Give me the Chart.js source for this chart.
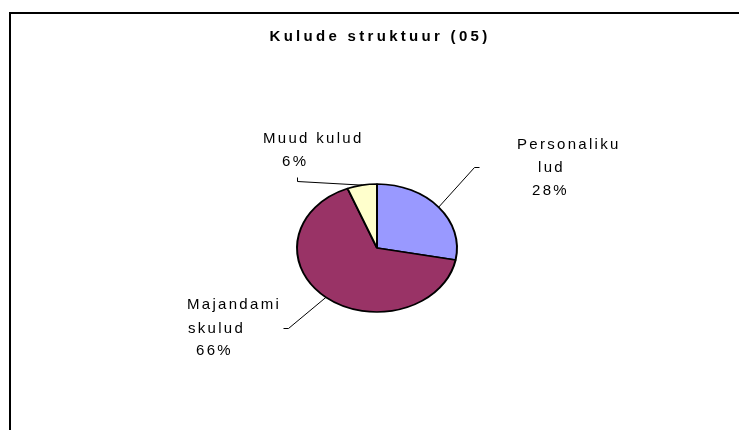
<!DOCTYPE html>
<html lang="et">
<head>
  <meta charset="UTF-8" />
  <title>Kulude struktuur (05)</title>
  <script src="https://cdn.jsdelivr.net/npm/chart.js"></script>
  <style>
    html, body { margin: 0; padding: 0; background: #fff; overflow: hidden; }
    #wrap { position: relative; width: 739px; height: 430px; }
    #frame { position: absolute; left: 9px; top: 12px; width: 800px; height: 500px;
             border-left: 2px solid #000; border-top: 2px solid #000; }
    canvas { position: absolute; left: 0; top: 0; }
  </style>
</head>
<body>
  <div id="wrap">
    <div id="frame"></div>
    <canvas id="pie" width="739" height="430"></canvas>
  </div>
  <script>
    // data
    const chartTitle = 'Kulude struktuur (05)';
    const categories = ['Personalikulud', 'Majandamiskulud', 'Muud kulud'];
    const shares = [28, 66, 6];
    // how the category names wrap in the labels
    const labelLines = [['Personaliku', 'lud'], ['Majandami', 'skulud'], ['Muud kulud']];

    // styles / layout
    const sliceColors = ['#9999FF', '#993366', '#FFFFCC'];
    const squash = 0.8; // pie is drawn as an ellipse
    const labelPos = [
      { lines: [[517, 149], [538, 172], [532, 195]], elbow: [474, 167], end: [479, 167] },
      { lines: [[187, 309], [188, 333], [196, 355]], elbow: [288, 328], end: [283, 328] },
      { lines: [[263, 143], [282, 166]], elbow: [297, 181], end: [297, 177] }
    ];

    // squash the round pie vertically
    const ellipsePlugin = {
      id: 'ellipse',
      beforeDatasetsDraw(chart) {
        const arc = chart.getDatasetMeta(0).data[0];
        const ctx = chart.ctx;
        ctx.save();
        ctx.translate(arc.x, arc.y);
        ctx.scale(1, squash);
        ctx.translate(-arc.x, -arc.y);
      },
      afterDatasetsDraw(chart) {
        chart.ctx.restore();
      }
    };

    // title, leader lines and data labels
    const labelsPlugin = {
      id: 'labels',
      afterDraw(chart) {
        const ctx = chart.ctx;
        const total = shares.reduce((a, b) => a + b, 0);
        ctx.save();
        ctx.fillStyle = '#000';
        ctx.font = 'bold 15px "Liberation Sans", Arial, sans-serif';
        ctx.letterSpacing = '3.3px';
        ctx.textBaseline = 'alphabetic';
        const tw = ctx.measureText(chartTitle).width;
        ctx.textAlign = 'left';
        ctx.fillText(chartTitle, 378 - tw / 2 + 2, 41);

        ctx.font = '15px "Liberation Sans", Arial, sans-serif';
        ctx.letterSpacing = '2.3px';
        ctx.strokeStyle = '#000';
        ctx.lineWidth = 1;
        chart.getDatasetMeta(0).data.forEach((arc, i) => {
          const p = arc.getProps(['x', 'y', 'startAngle', 'endAngle', 'outerRadius'], true);
          const mid = (p.startAngle + p.endAngle) / 2;
          const ex = p.x + Math.cos(mid) * p.outerRadius;
          const ey = p.y + Math.sin(mid) * p.outerRadius * squash;
          const lp = labelPos[i];
          ctx.beginPath();
          ctx.moveTo(ex, ey);
          ctx.lineTo(lp.elbow[0] + 0.5, lp.elbow[1] + 0.5);
          ctx.lineTo(lp.end[0] + 0.5, lp.end[1] + 0.5);
          ctx.stroke();
          const text = labelLines[i].concat([Math.round(shares[i] / total * 100) + '%']);
          text.forEach((t, j) => ctx.fillText(t, lp.lines[j][0], lp.lines[j][1]));
        });
        ctx.restore();
      }
    };

    new Chart(document.getElementById('pie'), {
      type: 'pie',
      data: {
        labels: categories,
        datasets: [{
          data: shares,
          backgroundColor: sliceColors,
          borderColor: '#000',
          borderWidth: 2
        }]
      },
      options: {
        responsive: false,
        animation: false,
        layout: { padding: { left: 296, right: 281, top: 167, bottom: 101 } },
        plugins: { legend: { display: false }, tooltip: { enabled: false }, title: { display: false } }
      },
      plugins: [ellipsePlugin, labelsPlugin]
    });
  </script>
</body>
</html>
